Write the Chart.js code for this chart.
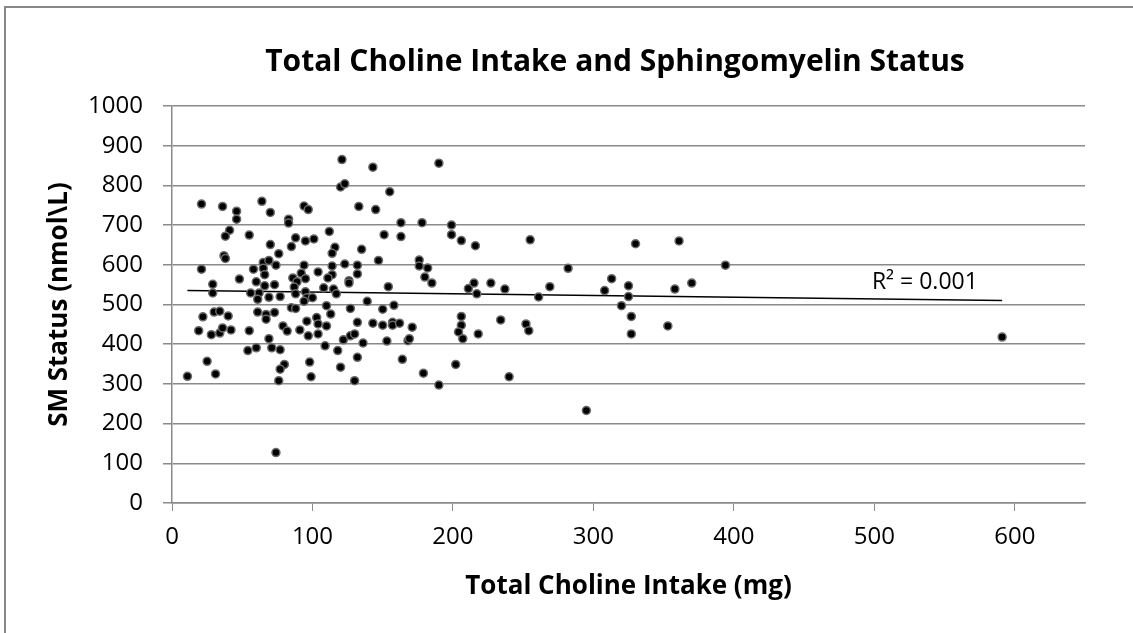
<!DOCTYPE html>
<html>
<head>
<meta charset="utf-8">
<script src="https://cdn.jsdelivr.net/npm/chart.js@4.4.1/dist/chart.umd.min.js"></script>
<style>
  html, body { margin: 0; padding: 0; background: #ffffff; }
  #c { display: block; }
</style>
</head>
<body>
<canvas id="c" width="1133" height="633"></canvas>
<script>
// ---- Data ----
const choline = [
  21,36,46,46,64,70,83,83,94,97,41,38,55,88,95,101,70,85,76,37,38,21,65,69,74,58,65,66,94,104,
  48,60,86,92,95,89,29,29,66,73,87,56,62,61,69,77,88,95,96,100,94,85,88,30,34,22,40,61,67,67,
  73,103,96,
  104,104,19,28,34,36,42,55,69,79,82,91,97,54,60,71,77,25,11,31,80,77,76,98,99,74,
  121,143,190,120,123,155,133,145,163,178,199,199,206,163,151,112,116,114,135,147,176,176,182,180,185,
  123,114,114,111,132,132,126,126,108,115,117,154,211,139,110,113,127,150,158,206,
  110,132,143,150,157,157,162,171,122,127,130,136,153,168,169,206,204,207,109,118,132,164,202,120,130,179,190,
  216,255,330,282,313,215,217,227,237,269,261,308,325,325,320,327,327,218,234,252,254,240,295,
  361,394,358,370,353,
  591
];
const smStatus = [
  753,747,735,715,760,732,715,705,748,739,687,672,675,668,660,665,651,646,628,623,616,589,606,611,599,589,591,575,599,582,
  564,557,567,579,565,557,551,529,547,550,544,529,529,513,518,520,527,532,517,517,508,492,490,481,483,469,471,481,475,463,
  480,467,458,
  451,426,434,424,428,441,436,434,414,446,433,436,421,384,391,391,386,357,319,325,349,337,308,355,318,127,
  865,846,856,796,804,784,747,739,706,706,700,676,661,671,676,684,644,629,639,611,612,597,592,569,554,
  602,597,575,567,599,577,560,554,542,539,527,545,540,508,497,476,490,488,498,470,
  446,455,453,448,455,448,453,443,411,421,426,403,408,409,414,448,431,414,396,384,367,362,349,342,308,327,297,
  648,663,653,591,565,554,527,554,539,545,519,535,547,520,497,470,426,426,461,451,434,318,233,
  660,599,539,554,446,
  418
];
const trendX = [11, 591];
const trendY = [535, 510];
const xTicks = [0, 100, 200, 300, 400, 500, 600];
const yTicks = [0, 100, 200, 300, 400, 500, 600, 700, 800, 900, 1000];
const titleText = 'Total Choline Intake and Sphingomyelin Status';
const xTitle = 'Total Choline Intake (mg)';
const yTitle = 'SM Status (nmol\\L)';
const r2Text = 'R\u00B2 = 0.001';
const r2Pos = [536, 555];

// ---- Build datasets ----
const points = choline.map((x, i) => ({ x: x, y: smStatus[i] }));
const trend = trendX.map((x, i) => ({ x: x, y: trendY[i] }));

const FONT = "'Open Sans', 'Liberation Sans', sans-serif";
const GRID = '#8a8a8a';

const framePlugin = {
  id: 'frame',
  beforeDraw(chart) {
    const ctx = chart.ctx;
    ctx.save();
    ctx.fillStyle = '#ffffff';
    ctx.fillRect(0, 0, chart.width, chart.height);
    ctx.strokeStyle = '#888888';
    ctx.lineWidth = 2;
    ctx.strokeRect(5, 7, 1200, 700);
    ctx.restore();
  },
  afterDraw(chart) {
    const ctx = chart.ctx;
    ctx.save();
    ctx.fillStyle = '#000000';
    ctx.font = "bold 30px " + FONT;
    ctx.textAlign = 'center';
    ctx.textBaseline = 'alphabetic';
    ctx.fillText(titleText, 615, 71);
    const xs = chart.scales.x, ys = chart.scales.y;
    ctx.font = "23px " + FONT;
    ctx.textBaseline = 'middle';
    ctx.fillText(r2Text, xs.getPixelForValue(r2Pos[0]), ys.getPixelForValue(r2Pos[1]));
    ctx.restore();
  }
};

new Chart(document.getElementById('c'), {
  type: 'scatter',
  data: {
    datasets: [
      {
        label: 'SM',
        data: points,
        pointRadius: 4,
        pointHoverRadius: 4,
        pointBackgroundColor: '#000000',
        pointBorderColor: '#6a6a6a',
        pointBorderWidth: 1.5
      },
      {
        label: 'Trend',
        type: 'line',
        data: trend,
        showLine: true,
        borderColor: '#000000',
        borderWidth: 1.5,
        pointRadius: 0,
        fill: false
      }
    ]
  },
  options: {
    responsive: false,
    animation: false,
    devicePixelRatio: 1,
    layout: { padding: { top: 106, right: 48, bottom: 10, left: 20 } },
    plugins: {
      legend: { display: false },
      tooltip: { enabled: false },
      title: { display: false }
    },
    scales: {
      x: {
        type: 'linear',
        min: 0,
        max: 650,
        afterFit(scale) { scale.height = 120; },
        afterBuildTicks(scale) { scale.ticks = xTicks.map(v => ({ value: v })); },
        ticks: {
          padding: 12,
          color: '#000000',
          font: { family: FONT, size: 24 },
          maxRotation: 0,
          callback: v => String(v)
        },
        grid: {
          drawOnChartArea: false,
          drawTicks: true,
          tickLength: 8,
          color: GRID,
          lineWidth: 1
        },
        border: { display: true, color: GRID, width: 1.5 },
        title: {
          display: true,
          text: xTitle,
          color: '#000000',
          font: { family: FONT, size: 26, weight: 'bold' },
          padding: { top: 0, bottom: 21 }
        }
      },
      y: {
        type: 'linear',
        min: 0,
        max: 1000,
        afterFit(scale) { scale.width = 152; },
        afterBuildTicks(scale) { scale.ticks = yTicks.map(v => ({ value: v })); },
        ticks: {
          padding: 20,
          color: '#000000',
          font: { family: FONT, size: 24 },
          callback: v => String(v)
        },
        grid: {
          drawOnChartArea: true,
          drawTicks: true,
          tickLength: 9,
          color: GRID,
          lineWidth: 1.5
        },
        border: { display: true, color: GRID, width: 1.5 },
        title: {
          display: true,
          text: yTitle,
          color: '#000000',
          font: { family: FONT, size: 26, weight: 'bold' },
          padding: { top: 24, bottom: 0 }
        }
      }
    }
  },
  plugins: [framePlugin]
});
</script>
</body>
</html>
